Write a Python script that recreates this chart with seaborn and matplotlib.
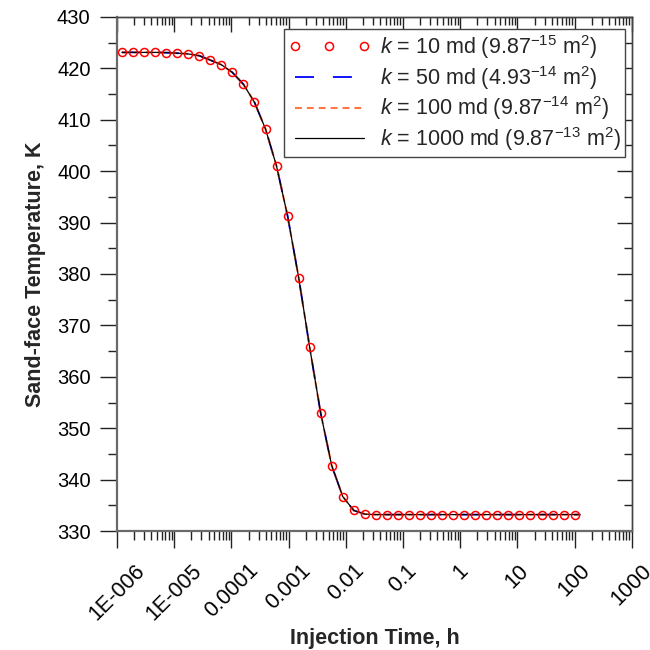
import matplotlib
matplotlib.use("Agg")
import matplotlib.pyplot as plt
import seaborn as sns
import pandas as pd
from matplotlib.ticker import FixedLocator, MultipleLocator, LogLocator, NullFormatter

# ---- data ----
time_h = [1.22e-6, 1.91e-6, 2.97e-6, 4.63e-6, 7.23e-6, 1.13e-5, 1.76e-5, 2.74e-5, 4.28e-5, 6.67e-5,
          1.04e-4, 1.62e-4, 2.53e-4, 3.95e-4, 6.15e-4, 9.59e-4, 1.50e-3, 2.33e-3, 3.64e-3, 5.68e-3,
          8.85e-3, 1.38e-2, 2.15e-2, 3.36e-2, 5.24e-2, 8.17e-2, 0.127, 0.199, 0.310, 0.483,
          0.753, 1.18, 1.83, 2.86, 4.46, 6.95, 10.8, 16.9, 26.4, 41.1, 64.1, 100.0]
temp_10md = [423.1, 423.1, 423.1, 423.1, 423.05, 422.95, 422.8, 422.45, 421.6, 420.7,
             419.2, 416.9, 413.4, 408.2, 401.0, 391.3, 379.3, 365.8, 352.9, 342.7,
             336.7, 334.0, 333.3, 333.2, 333.2, 333.2, 333.2, 333.2, 333.2, 333.2,
             333.2, 333.2, 333.2, 333.2, 333.2, 333.2, 333.2, 333.2, 333.2, 333.2,
             333.2, 333.2]

time_line = [1.22e-6, 1.91e-6, 2.97e-6, 4.63e-6, 7.23e-6, 1.13e-5, 1.76e-5, 2.74e-5, 4.28e-5, 6.67e-5,
             1.04e-4, 1.62e-4, 2.53e-4, 3.95e-4, 6.15e-4, 9.59e-4, 1.50e-3, 2.33e-3, 3.64e-3, 5.68e-3,
             8.85e-3, 1.38e-2, 2.15e-2, 3.36e-2, 5.24e-2, 8.17e-2, 0.127, 0.199, 0.310, 0.483,
             0.753, 1.18, 1.83, 2.86, 4.46, 6.95, 10.8, 16.9, 26.4, 41.1, 64.1, 100.0, 125.0]
temp_50md = [423.1, 423.1, 423.1, 423.1, 423.05, 422.95, 422.8, 422.45, 421.6, 420.7,
             419.2, 416.9, 413.4, 408.2, 401.0, 391.3, 379.3, 365.8, 352.9, 342.7,
             336.7, 334.0, 333.3, 333.2, 333.2, 333.2, 333.2, 333.2, 333.2, 333.2,
             333.2, 333.2, 333.2, 333.2, 333.2, 333.2, 333.2, 333.2, 333.2, 333.2,
             333.2, 333.2, 333.2]
temp_100md = [423.1, 423.1, 423.1, 423.1, 423.05, 422.95, 422.8, 422.45, 421.6, 420.7,
              419.2, 416.9, 413.4, 408.2, 401.0, 391.3, 379.3, 365.8, 352.9, 342.7,
              336.7, 334.0, 333.3, 333.2, 333.2, 333.2, 333.2, 333.2, 333.2, 333.2,
              333.2, 333.2, 333.2, 333.2, 333.2, 333.2, 333.2, 333.2, 333.2, 333.2,
              333.2, 333.2, 333.2]
temp_1000md = [423.1, 423.1, 423.1, 423.1, 423.05, 422.95, 422.8, 422.45, 421.6, 420.7,
               419.2, 416.9, 413.4, 408.2, 401.0, 391.3, 379.3, 365.8, 352.9, 342.7,
               336.7, 334.0, 333.3, 333.2, 333.2, 333.2, 333.2, 333.2, 333.2, 333.2,
               333.2, 333.2, 333.2, 333.2, 333.2, 333.2, 333.2, 333.2, 333.2, 333.2,
               333.2, 333.2, 333.2]

series_labels = [r"$k$ = 10 md (9.87$^{-15}$ m$^{2}$)",
                 r"$k$ = 50 md (4.93$^{-14}$ m$^{2}$)",
                 r"$k$ = 100 md (9.87$^{-14}$ m$^{2}$)",
                 r"$k$ = 1000 md (9.87$^{-13}$ m$^{2}$)"]
xtick_values = [1e-6, 1e-5, 1e-4, 1e-3, 1e-2, 1e-1, 1, 10, 100, 1000]
xtick_labels = ["1E-006", "1E-005", "0.0001", "0.001", "0.01", "0.1", "1", "10", "100", "1000"]

# ---- style ----
sns.set_theme(style="white")
plt.rcParams['font.family'] = ['Liberation Sans', 'DejaVu Sans']
plt.rcParams['mathtext.fontset'] = 'custom'
plt.rcParams['mathtext.rm'] = 'Liberation Sans'
plt.rcParams['mathtext.it'] = 'Liberation Sans:italic'
plt.rcParams['mathtext.bf'] = 'Liberation Sans:bold'

fig, ax = plt.subplots(figsize=(6.5, 6.5), dpi=100)
fig.subplots_adjust(left=0.18, right=0.972, top=0.974, bottom=0.183)
ax.set_xscale('log')

df10 = pd.DataFrame({"t": time_h, "T": temp_10md})
dfl = pd.DataFrame({"t": time_line, "T50": temp_50md, "T100": temp_100md, "T1000": temp_1000md})

sns.lineplot(data=df10, x="t", y="T", ax=ax, linestyle='none', marker='o', markersize=5.8,
             markerfacecolor='none', markeredgecolor='red', markeredgewidth=1.1,
             color='red', estimator=None, sort=False, zorder=5)
sns.lineplot(data=dfl, x="t", y="T50", ax=ax, color='#0000FF', lw=1.3,
             linestyle=(0, (10.5, 10.5)), estimator=None, sort=False, zorder=2)
sns.lineplot(data=dfl, x="t", y="T100", ax=ax, color='#FF7744', lw=1.5,
             linestyle=(0, (3.3, 2.4)), estimator=None, sort=False, zorder=3)
sns.lineplot(data=dfl, x="t", y="T1000", ax=ax, color='black', lw=0.9,
             estimator=None, sort=False, zorder=4)

ax.set_xlim(1e-6, 1e3)
ax.set_ylim(330, 430)

ax.xaxis.set_major_locator(FixedLocator(xtick_values))
ax.xaxis.set_minor_locator(LogLocator(base=10, subs=[2, 3, 4, 5, 6, 7, 8, 9], numticks=100))
ax.xaxis.set_minor_formatter(NullFormatter())
ax.set_xticklabels(xtick_labels, rotation=45, ha='center')
ax.yaxis.set_major_locator(MultipleLocator(10))
ax.yaxis.set_minor_locator(MultipleLocator(5))

tick_color = '#222222'
ax.tick_params(axis='both', which='major', direction='out', length=12, width=1,
               colors=tick_color, labelcolor='black', bottom=True, left=True, top=False, right=False)
ax.tick_params(axis='both', which='minor', direction='out', length=6.5, width=1,
               colors=tick_color, bottom=True, left=True, top=False, right=False)
ax.tick_params(axis='x', which='major', labelsize=15.5, pad=9)
ax.tick_params(axis='y', which='major', labelsize=14.5, pad=7)

secy = ax.secondary_yaxis('right')
secy.yaxis.set_major_locator(MultipleLocator(10))
secy.yaxis.set_minor_locator(MultipleLocator(5))
secy.tick_params(which='major', direction='in', length=11, width=1, right=True, labelright=False, colors=tick_color)
secy.tick_params(which='minor', direction='in', length=6, width=1, right=True, colors=tick_color)

secx = ax.secondary_xaxis('top')
secx.xaxis.set_major_locator(FixedLocator(xtick_values))
secx.xaxis.set_minor_locator(LogLocator(base=10, subs=[2, 3, 4, 5, 6, 7, 8, 9], numticks=100))
secx.tick_params(which='major', direction='in', length=11, width=1, top=True, labeltop=False, colors=tick_color)
secx.tick_params(which='minor', direction='in', length=6, width=1, top=True, colors=tick_color)

for name, sp in ax.spines.items():
    sp.set_visible(True)
    sp.set_color('#444444')
    sp.set_linewidth(1.0)
ax.spines['left'].set_color('#6a6a6a')
ax.spines['left'].set_linewidth(1.6)
ax.spines['bottom'].set_color('#6a6a6a')
ax.spines['bottom'].set_linewidth(1.6)
for s in (secx, secy):
    for sp in s.spines.values():
        sp.set_color('#444444')
        sp.set_linewidth(1.0)

ax.set_xlabel('Injection Time, h', fontsize=15.5, fontweight='bold', labelpad=3)
ax.set_ylabel('Sand-face Temperature, K', fontsize=15.5, fontweight='bold', labelpad=8)

handles = ax.get_lines()[:4]
leg = ax.legend(handles, series_labels, loc='upper right', bbox_to_anchor=(0.987, 0.977),
                borderaxespad=0, fontsize=15.5, frameon=True, fancybox=False,
                edgecolor='#444444', framealpha=1, handlelength=3.8, handletextpad=0.45,
                borderpad=0.2, labelspacing=0.13, numpoints=3)
leg.get_frame().set_linewidth(1.0)

fig.savefig('out.png', dpi=100)
